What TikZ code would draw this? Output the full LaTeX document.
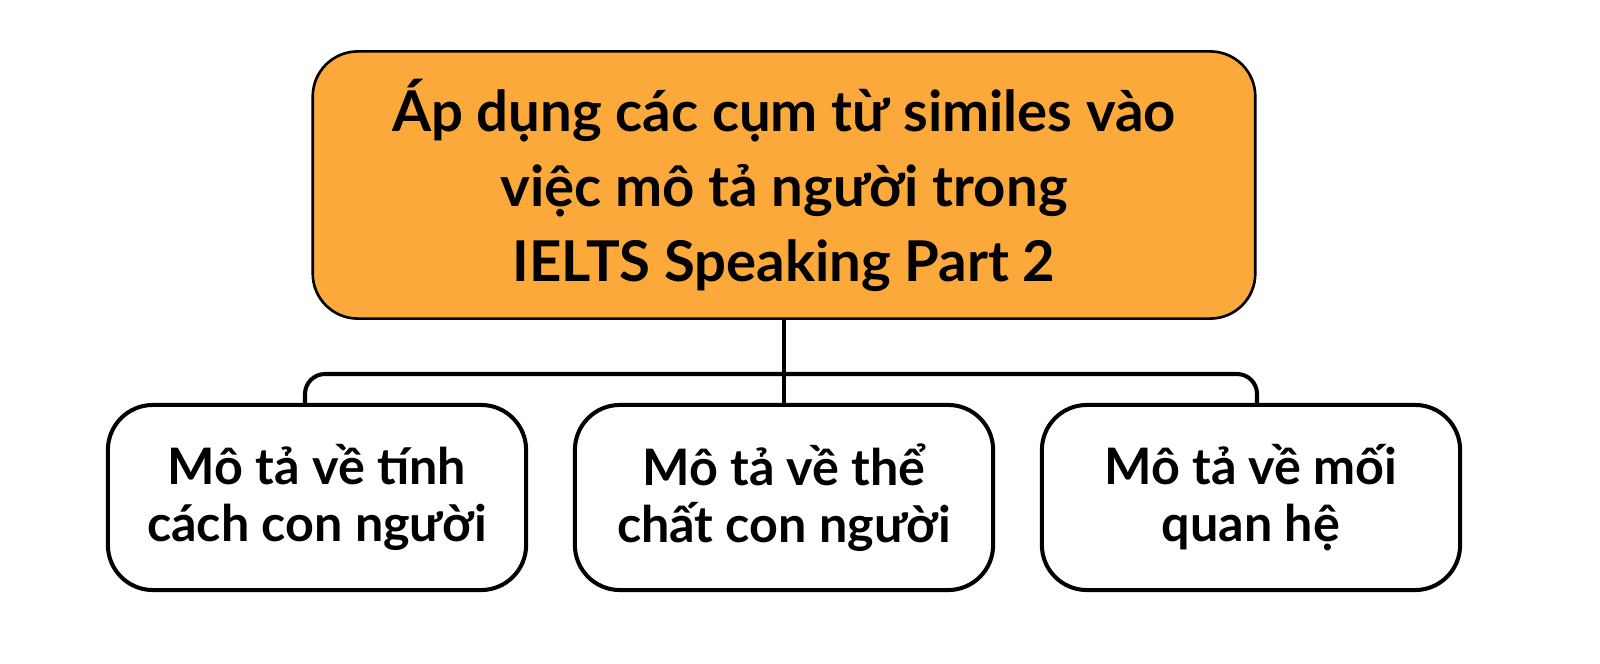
\documentclass[tikz,border=0pt]{standalone}
\usepackage{fontspec}
\setmainfont{Lato}[UprightFont=* Bold]
\usepackage{xcolor}
\usetikzlibrary{positioning}
\definecolor{topic}{HTML}{FBA93A}

\begin{document}
\begin{tikzpicture}[x=0.01cm, y=-0.01cm,
    mainbox/.style={draw=black, line width=0.75pt, fill=topic, rounded corners=0.45cm,
      minimum width=9.42cm, minimum height=2.67cm, align=center,
      font=\fontsize{16}{21.3}\selectfont},
    subbox/.style={draw=black, line width=1.15pt, fill=white, rounded corners=0.45cm,
      minimum width=4.18cm, minimum height=1.85cm, align=center,
      font=\fontsize{14.3}{16.2}\selectfont},
    link/.style={draw=black, line width=1.15pt}]
  % Frame of the picture
  \useasboundingbox (0,0) rectangle (1600,664);

  \node[mainbox] (topic) at (784,185) {Áp dụng các cụm từ similes vào\\việc mô tả người trong\\IELTS Speaking Part 2};

  \node[subbox] (tinhcach) at (317,497.5) {Mô tả về tính\\cách con người};
  \node[subbox] (thechat) at (784,497.5) {Mô tả về thể\\chất con người};
  \node[subbox] (quanhe) at (1251,497.5) {Mô tả về mối\\quan hệ};

  % Bus between the boxes
  \coordinate (bus) at (784,374);
  \draw[link] (topic.south) -- (thechat.north);
  \draw[link, rounded corners=0.2cm] ([xshift=-0.12cm]tinhcach.north) |- (bus) -| ([xshift=0.06cm]quanhe.north);
\end{tikzpicture}
\end{document}
